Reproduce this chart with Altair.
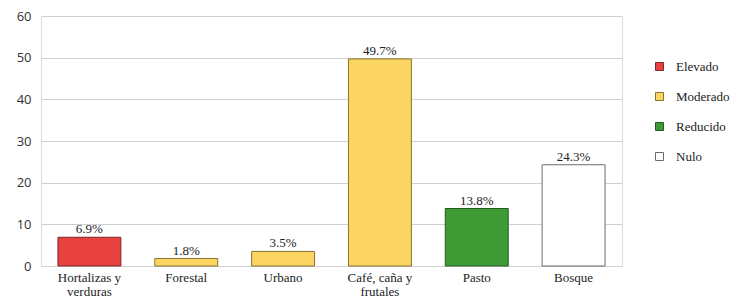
import altair as alt
import pandas as pd

categories = ["Hortalizas y verduras", "Forestal", "Urbano", "Café, caña y frutales", "Pasto", "Bosque"]
values = [6.9, 1.8, 3.5, 49.7, 13.8, 24.3]
levels = ["Elevado", "Moderado", "Moderado", "Moderado", "Reducido", "Nulo"]
level_order = ["Elevado", "Moderado", "Reducido", "Nulo"]
level_colors = ["#E8403F", "#FCD462", "#3E9A35", "#FFFFFF"]
level_strokes = ["#7a2a2a", "#8a7430", "#2a5a24", "#6a6a6a"]

df = pd.DataFrame({"cat": categories, "val": values, "lvl": levels,
                   "txt": [f"{v}%" for v in values]})

serif = "Liberation Serif"

x = alt.X("cat:N", sort=categories, title=None,
          scale=alt.Scale(paddingInner=0.35, paddingOuter=0.175),
          axis=alt.Axis(labelAngle=0, labelFont=serif, labelFontSize=13,
                        labelColor="#222", ticks=False, domain=False,
                        labelPadding=5, labelLineHeight=14,
                        labelExpr="split(replace(datum.label, ' y ', ' y|'), '|')"))

bars = alt.Chart(df).mark_bar(strokeWidth=1).encode(
    x=x,
    y=alt.Y("val:Q", title=None,
            scale=alt.Scale(domain=[0, 60]),
            axis=alt.Axis(values=[0, 10, 20, 30, 40, 50, 60], ticks=False, domain=False,
                          labelFont="Open Sans", labelFontSize=13, labelColor="#333",
                          labelPadding=10, gridColor="#d0d0d0", gridWidth=1.2)),
    fill=alt.Fill("lvl:N", scale=alt.Scale(domain=level_order, range=level_colors),
                  legend=alt.Legend(title=None, orient="none", legendX=612, legendY=44,
                                    symbolType="square", symbolSize=64,
                                    symbolStrokeWidth=1, symbolStrokeColor="#666",
                                    labelFont=serif, labelFontSize=13, labelColor="#222",
                                    labelOffset=10, rowPadding=16, padding=0)),
    stroke=alt.Stroke("lvl:N", scale=alt.Scale(domain=level_order, range=level_strokes),
                      legend=None),
)

labels = alt.Chart(df).mark_text(dy=-8, font=serif, fontSize=13, color="#222").encode(
    x=alt.X("cat:N", sort=categories),
    y="val:Q",
    text="txt:N",
)

chart = (bars + labels).properties(
    width=581, height=250,
    autosize=alt.AutoSizeParams(type="none"),
    padding={"left": 33, "top": 8, "right": 112, "bottom": 33},
).configure_view(stroke="#c8c8c8", strokeWidth=1.2).configure(background="white")

chart.save("out.html", embed_options={"renderer": "svg", "actions": False})
